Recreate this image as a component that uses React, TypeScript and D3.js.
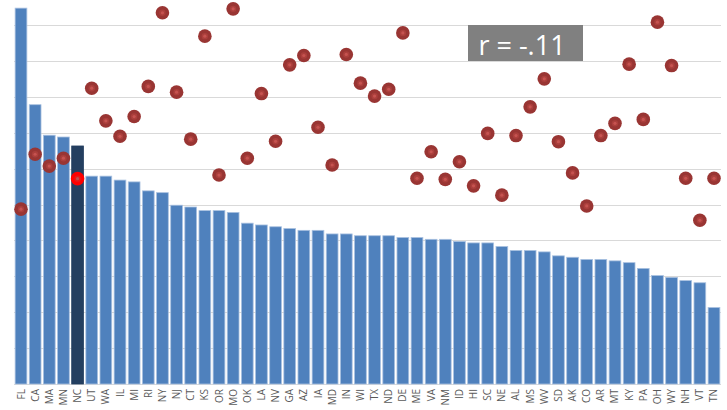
import React, { useEffect, useRef } from "react";
import * as d3 from "d3";

// states sorted by bar value
const states = [
  "FL", "CA", "MA", "MN", "NC", "UT", "WA", "IL", "MI", "RI",
  "NY", "NJ", "CT", "KS", "OR", "MO", "OK", "LA", "NV", "GA",
  "AZ", "IA", "MD", "IN", "WI", "TX", "ND", "DE", "ME", "VA",
  "NM", "ID", "HI", "SC", "NE", "AL", "MS", "WV", "SD", "AK",
  "CO", "AR", "MT", "KY", "PA", "OH", "WY", "NH", "VT", "TN",
];

const barValues = [
  10.47, 7.78, 6.93, 6.88, 6.63, 5.79, 5.79, 5.68, 5.63, 5.38,
  5.33, 4.98, 4.93, 4.83, 4.83, 4.78, 4.48, 4.43, 4.38, 4.33,
  4.28, 4.28, 4.18, 4.18, 4.13, 4.13, 4.13, 4.08, 4.08, 4.03,
  4.03, 3.97, 3.93, 3.93, 3.83, 3.72, 3.72, 3.68, 3.57, 3.53,
  3.47, 3.47, 3.43, 3.38, 3.22, 3.02, 2.97, 2.88, 2.82, 2.13,
];

const dotValues = [
  4.87, 6.4, 6.07, 6.29, 5.72, 8.24, 7.33, 6.9, 7.45, 8.29,
  10.34, 8.13, 6.82, 9.69, 5.82, 10.45, 6.29, 8.09, 6.76, 8.89,
  9.15, 7.15, 6.1, 9.18, 8.38, 8.02, 8.21, 9.78, 5.73, 6.47,
  5.7, 6.19, 5.52, 6.98, 5.26, 6.92, 7.72, 8.5, 6.75, 5.88,
  4.96, 6.92, 7.26, 8.91, 7.37, 10.08, 8.87, 5.73, 4.56, 5.73,
];

const gridTicks = [0, 1, 2, 3, 4, 5, 6, 7, 8, 9, 10];
const highlight = "NC";
const rLabel = "r = -.11";

export default function App() {
  const ref = useRef<SVGSVGElement>(null);

  useEffect(() => {
    const svg = d3.select(ref.current);
    svg.selectAll("*").remove();

    const x = d3.scaleBand<string>()
      .domain(states)
      .range([14, 721])
      .paddingInner(0.17)
      .paddingOuter(0.08);
    const y = d3.scaleLinear().domain([0, 10]).range([384, 25]);

    // gridlines
    svg.append("g")
      .selectAll("line")
      .data(gridTicks)
      .enter()
      .append("line")
      .attr("x1", 14)
      .attr("x2", 721)
      .attr("y1", d => Math.round(y(d)) + 0.5)
      .attr("y2", d => Math.round(y(d)) + 0.5)
      .attr("stroke", "#d9d9d9")
      .attr("stroke-width", 1);

    // bars
    svg.append("g")
      .selectAll("rect")
      .data(states)
      .enter()
      .append("rect")
      .attr("x", d => x(d)!)
      .attr("width", x.bandwidth())
      .attr("y", (d, i) => y(barValues[i]))
      .attr("height", (d, i) => y(0) - y(barValues[i]))
      .attr("fill", d => (d === highlight ? "#243f60" : "#4f81bd"))
      .attr("stroke", d => (d === highlight ? "#243f60" : "#a9c1e0"))
      .attr("stroke-width", 0.8);

    // labels
    svg.append("g")
      .selectAll("text")
      .data(states)
      .enter()
      .append("text")
      .attr("transform", d => "translate(" + (x(d)! + x.bandwidth() / 2 + 3.5) + ",389) rotate(-90)")
      .attr("text-anchor", "end")
      .attr("font-family", "Open Sans, sans-serif")
      .attr("font-size", 10)
      .attr("fill", "#595959")
      .text(d => d);

    // dots
    const dots = svg.append("g")
      .selectAll("g")
      .data(states)
      .enter()
      .append("g")
      .attr("transform", (d, i) => "translate(" + (x(d)! + x.bandwidth() / 2) + "," + y(dotValues[i]) + ")");
    dots.append("circle")
      .attr("r", 6.8)
      .attr("fill", d => (d === highlight ? "#ff0000" : "#993533"));
    dots.append("circle")
      .attr("r", 3.2)
      .attr("fill", d => (d === highlight ? "#e81818" : "#ab3f3c"));
    dots.append("circle")
      .attr("r", 1.6)
      .attr("fill", d => (d === highlight ? "#c0504d" : "#c65350"));

    // r label
    const lg = svg.append("g");
    lg.append("rect")
      .attr("x", 468)
      .attr("y", 25)
      .attr("width", 115)
      .attr("height", 36)
      .attr("fill", "#808080");
    lg.append("text")
      .attr("x", 522)
      .attr("y", 55)
      .attr("text-anchor", "middle")
      .attr("font-family", "Open Sans, sans-serif")
      .attr("font-size", 27)
      .attr("fill", "#ffffff")
      .text(rLabel);
  }, []);

  return (
    <svg
      ref={ref}
      width={727}
      height={410}
      style={{ position: "absolute", left: 0, top: 0, background: "#fff" }}
    />
  );
}
